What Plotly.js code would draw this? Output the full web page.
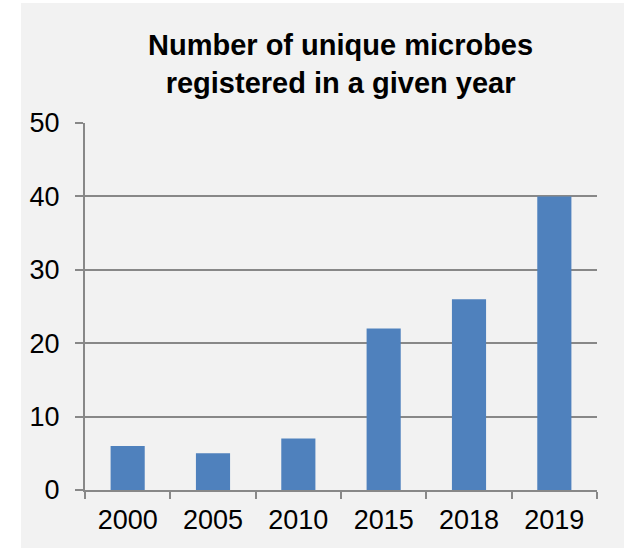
<!DOCTYPE html>
<html>
<head>
<meta charset="utf-8">
<script src="https://cdn.plot.ly/plotly-3.0.1.min.js"></script>
<style>
html,body{margin:0;padding:0;background:#ffffff;}
#chart{position:absolute;left:21px;top:3px;width:603px;height:545px;}
</style>
</head>
<body>
<div id="chart"></div>
<script>
const years = ["2000", "2005", "2010", "2015", "2018", "2019"];
const counts = [6, 5, 7, 22, 26, 40];
const yTicks = [0, 10, 20, 30, 40, 50];
const titleText = "Number of unique microbes<br>registered in a given year";

const gridColor = "#888888";
const font = "Liberation Sans, Arial, sans-serif";

Plotly.newPlot("chart", [{
  type: "bar",
  x: years,
  y: counts,
  marker: {color: "#4f81bd"},
  hoverinfo: "x+y"
}], {
  width: 603,
  height: 545,
  paper_bgcolor: "#f2f2f2",
  plot_bgcolor: "#f2f2f2",
  margin: {l: 64, r: 27, t: 120, b: 58},
  bargap: 0.6,
  showlegend: false,
  title: {
    text: titleText,
    font: {family: font, size: 29, color: "#000000", weight: "bold"},
    x: 0.53, xanchor: "center",
    y: 0.904, yanchor: "middle"
  },
  xaxis: {
    type: "category",
    tickson: "boundaries",
    ticks: "outside",
    ticklen: 7,
    tickwidth: 2,
    tickcolor: gridColor,
    showline: true,
    linecolor: gridColor,
    linewidth: 2,
    showgrid: false,
    tickfont: {family: font, size: 27, color: "#000000"},
    ticklabelstandoff: 5
  },
  yaxis: {
    range: [0, 50],
    tickvals: yTicks,
    ticks: "outside",
    ticklen: 8,
    tickwidth: 2,
    tickcolor: gridColor,
    showline: true,
    linecolor: gridColor,
    linewidth: 2,
    showgrid: true,
    gridcolor: gridColor,
    gridwidth: 2,
    zeroline: false,
    tickfont: {family: font, size: 27, color: "#000000"},
    ticklabelstandoff: 10
  }
}, {displayModeBar: false});
</script>
</body>
</html>
